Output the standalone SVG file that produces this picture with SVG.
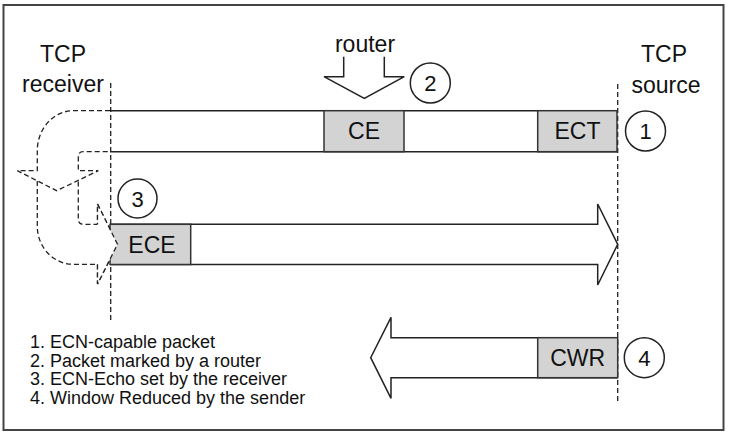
<svg xmlns="http://www.w3.org/2000/svg" width="730" height="436" viewBox="0 0 730 436">
<style>
text{font-family:"Liberation Sans",Arial,Helvetica,sans-serif;fill:#111}
.lbl{font-size:23px;text-anchor:middle}
.num{font-size:22px;text-anchor:middle}
.leg{font-size:18px}
.ln{fill:none;stroke:#222;stroke-width:1.5}
.shape{fill:#fff;stroke:#222;stroke-width:1.5;stroke-linejoin:miter}
.dash{fill:#fff;stroke:#222;stroke-width:1.3;stroke-dasharray:5 3}
.vdash{fill:none;stroke:#222;stroke-width:1.3;stroke-dasharray:5 3}
.box{fill:#d3d3d3;stroke:#333;stroke-width:1.5}
.circ{fill:#fff;stroke:#222;stroke-width:1.5}
</style>
<rect x="3.5" y="5" width="720" height="425" fill="#fff" stroke="#444" stroke-width="2"/>

<g id="endpoints">
<text class="lbl" x="63" y="62">TCP</text>
<text class="lbl" x="63" y="92">receiver</text>
<text class="lbl" x="664" y="62">TCP</text>
<text class="lbl" x="666" y="93">source</text>
</g>

<g id="connectors">
<!-- forward data band -->
<path class="ln" d="M110 110.7 H617 M110 151.7 H617"/>
<!-- ECE arrow -->
<path class="shape" d="M110 224.3 H597.7 V204 L617.7 244.3 L597.7 285 V264.5 H110"/>
<!-- CWR arrow -->
<path class="shape" d="M617.7 337.7 H391 V317.3 L370.7 357.7 L391 398.3 V377.7 H617.7"/>
<!-- router arrow -->
<path class="shape" d="M343.7 56.7 V76.7 H324 L364.3 98.3 L404.3 76.7 H384.3 V56.7"/>
<!-- echo U-turn: right arrow into ECE -->
<path class="dash" d="M37.3 181 V226 A36 38 0 0 0 73.3 264.3 H97.5 V284 L117.5 244.3 L97.5 204 V224.3 H83.3 Q78.3 224.3 78.3 219.3 V180.3"/>
<!-- echo U-turn: downward arrow -->
<path class="dash" d="M110 110.7 H73.3 A36 40 0 0 0 37.3 150.7 V170.7 H17.3 L56.7 190.7 L98.3 170.7 H78.3 V156.7 Q78.3 151.7 83.3 151.7 H110"/>
<!-- endpoint timelines -->
<path class="vdash" d="M110.7 83 V322"/>
<path class="vdash" d="M617.7 84 V404"/>
</g>

<g id="router">
<text class="lbl" x="365" y="52">router</text>
</g>

<g id="ce">
<rect class="box" x="324" y="110.7" width="80" height="41"/>
<text class="lbl" x="364" y="139">CE</text>
</g>

<g id="ect">
<rect class="box" x="537.7" y="110.7" width="79.3" height="41"/>
<text class="lbl" x="577.5" y="139">ECT</text>
</g>

<g id="ece">
<rect class="box" x="110" y="224.3" width="80.7" height="40.2"/>
<path class="dash" d="M97.5 264.3 V284 L117.5 244.3 L97.5 204 V224.3" fill="#fff"/>
<text class="lbl" x="152" y="252.5">ECE</text>
</g>

<g id="cwr">
<rect class="box" x="537.7" y="337.7" width="80" height="40"/>
<text class="lbl" x="577.7" y="366">CWR</text>
</g>

<g id="n1"><circle class="circ" cx="645.5" cy="131" r="20"/><text class="num" x="645.5" y="139">1</text></g>
<g id="n2"><circle class="circ" cx="430.3" cy="83" r="20"/><text class="num" x="430.3" y="91">2</text></g>
<g id="n3"><circle class="circ" cx="137.5" cy="198.5" r="19.5"/><text class="num" x="137.5" y="206.5">3</text></g>
<g id="n4"><circle class="circ" cx="644.3" cy="357.7" r="20"/><text class="num" x="644.3" y="365.7">4</text></g>

<g id="legend">
<text class="leg" x="30" y="348">1. ECN-capable packet</text>
<text class="leg" x="30" y="366.5">2. Packet marked by a router</text>
<text class="leg" x="30" y="385">3. ECN-Echo set by the receiver</text>
<text class="leg" x="30" y="403.5">4. Window Reduced by the sender</text>
</g>
</svg>
